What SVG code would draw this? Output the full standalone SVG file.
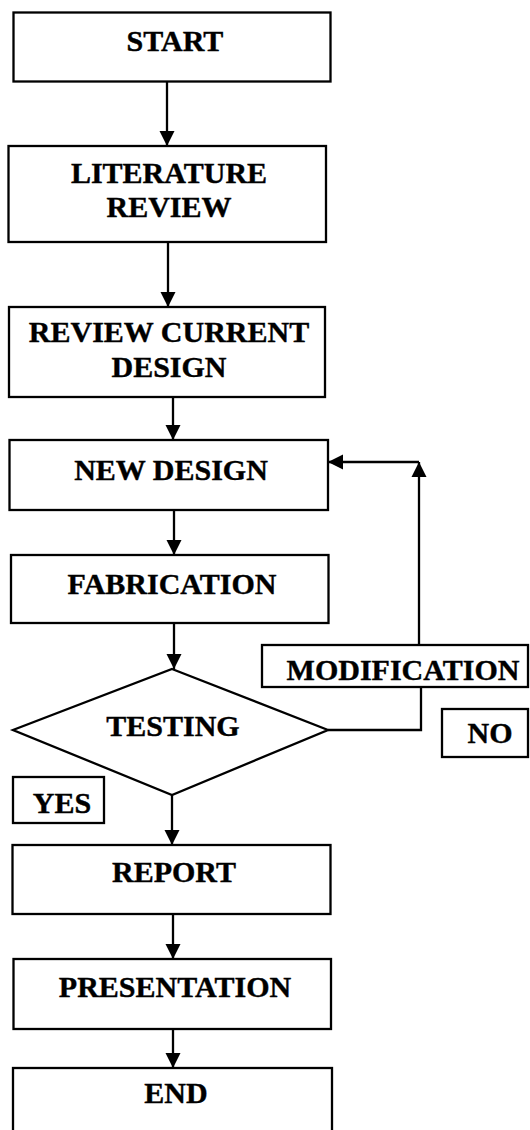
<svg xmlns="http://www.w3.org/2000/svg" width="530" height="1130" viewBox="0 0 530 1130">
<defs>
<style>
.box{fill:#fff;stroke:#000;stroke-width:2.3}
.lbl{font-family:"Liberation Serif","Times New Roman",serif;font-weight:bold;font-size:30px;fill:#000;stroke:#000;stroke-width:0.4;text-anchor:middle}
.con{fill:none;stroke:#000;stroke-width:2.3}
</style>
<marker id="ah" markerUnits="userSpaceOnUse" markerWidth="16" markerHeight="16" refX="15" refY="8" orient="auto" viewBox="0 0 16 16">
<path d="M0,0.5 L15,8 L0,15.5 z" fill="#000"/>
</marker>
</defs>
<rect width="530" height="1130" fill="#fff"/>
<g id="connectors">
<line class="con" x1="167" y1="82" x2="167" y2="146" marker-end="url(#ah)"/>
<line class="con" x1="168" y1="242" x2="168" y2="307" marker-end="url(#ah)"/>
<line class="con" x1="173" y1="397" x2="173" y2="440" marker-end="url(#ah)"/>
<line class="con" x1="174" y1="510" x2="174" y2="555" marker-end="url(#ah)"/>
<line class="con" x1="174" y1="623" x2="174" y2="669" marker-end="url(#ah)"/>
<line class="con" x1="172" y1="795" x2="172" y2="845" marker-end="url(#ah)"/>
<line class="con" x1="173" y1="914" x2="173" y2="959" marker-end="url(#ah)"/>
<line class="con" x1="173" y1="1029" x2="173" y2="1068" marker-end="url(#ah)"/>
<polyline class="con" points="328,730 421,730 421,687"/>
<line class="con" x1="419" y1="645" x2="419" y2="462" marker-end="url(#ah)"/>
<line class="con" x1="419" y1="462" x2="328" y2="462" marker-end="url(#ah)"/>
</g>
<g id="start">
<rect class="box" x="13.5" y="12.5" width="317" height="69"/>
<text class="lbl" x="175" y="51">START</text>
</g>
<g id="literature-review">
<rect class="box" x="8.5" y="146" width="317.5" height="96"/>
<text class="lbl" x="169" y="183">LITERATURE</text>
<text class="lbl" x="169" y="217">REVIEW</text>
</g>
<g id="review-current-design">
<rect class="box" x="9" y="307" width="316" height="90"/>
<text class="lbl" x="169" y="342">REVIEW CURRENT</text>
<text class="lbl" x="169" y="377">DESIGN</text>
</g>
<g id="new-design">
<rect class="box" x="9.5" y="440" width="318.5" height="70"/>
<text class="lbl" x="171" y="480">NEW DESIGN</text>
</g>
<g id="fabrication">
<rect class="box" x="11" y="555" width="317.5" height="68"/>
<text class="lbl" x="172" y="594">FABRICATION</text>
</g>
<g id="testing">
<polygon class="box" points="172,669 328,730 172,795 13,730"/>
<text class="lbl" x="173" y="736">TESTING</text>
</g>
<g id="modification">
<rect class="box" x="262" y="645" width="266" height="42"/>
<text class="lbl" x="403" y="680">MODIFICATION</text>
</g>
<g id="no">
<rect class="box" x="442" y="709" width="86" height="48"/>
<text class="lbl" x="490" y="743">NO</text>
</g>
<g id="yes">
<rect class="box" x="13" y="777" width="91" height="46"/>
<text class="lbl" x="62" y="813">YES</text>
</g>
<g id="report">
<rect class="box" x="12.5" y="845" width="318" height="69"/>
<text class="lbl" x="174" y="882">REPORT</text>
</g>
<g id="presentation">
<rect class="box" x="13.5" y="959" width="317.5" height="70"/>
<text class="lbl" x="175" y="997">PRESENTATION</text>
</g>
<g id="end">
<rect class="box" x="13" y="1068" width="319" height="70"/>
<text class="lbl" x="176" y="1103">END</text>
</g>
</svg>
